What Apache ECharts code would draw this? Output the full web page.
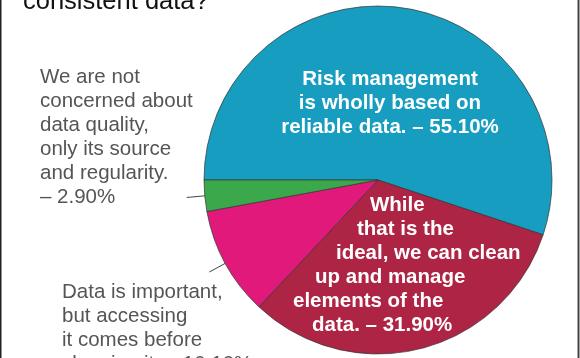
<!DOCTYPE html>
<html><head><meta charset="utf-8">
<script src="https://cdn.jsdelivr.net/npm/echarts@6/dist/echarts.min.js"></script>
<style>html,body{margin:0;padding:0;background:#fff}#c{width:580px;height:358px}</style>
</head><body><div id="c"></div>
<script>
const titleText = 'consistent data?';
const categories = [
  'Risk management is wholly based on reliable data.',
  'While that is the ideal, we can clean up and manage elements of the data.',
  'Data is important, but accessing it comes before cleaning it.',
  'We are not concerned about data quality, only its source and regularity.'
];
const values = [55.1, 31.9, 10.1, 2.9];
const colors = ['#179dc0', '#ae2444', '#e1197b', '#3ba94b'];
const labelLines = [
  ['Risk management', 'is wholly based on', 'reliable data. – %v'],
  ['While', 'that is the', 'ideal, we can clean', 'up and manage', 'elements of the', 'data. – %v'],
  ['Data is important,', 'but accessing', 'it comes before', 'cleaning it. – %v'],
  ['We are not', 'concerned about', 'data quality,', 'only its source', 'and regularity.', '– %v']
];
const redIndents = [77, 64, 43, 22, 0, 19];

const FONT = 'Liberation Sans, Arial, Helvetica, sans-serif';
function lines(i) {
  const v = values[i].toFixed(2) + '%';
  return labelLines[i].map(s => s.replace('%v', v));
}

const redRich = {};
redIndents.forEach((p, k) => {
  redRich['r' + k] = { fontFamily: FONT, fontSize: 20.5, fontWeight: 'bold', color: '#fff', lineHeight: 24, align: 'left', padding: [0, 0, 0, p] };
});

const mainData = values.map((v, i) => {
  const item = { name: categories[i], value: v, itemStyle: { color: colors[i] } };
  if (i === 0) {
    item.label = { show: true, position: 'inside', formatter: () => lines(0).join('\n'),
      fontFamily: FONT, fontSize: 20.5, fontWeight: 'bold', color: '#fff', lineHeight: 24, align: 'center' };
    item.labelLine = { show: false };
  } else if (i === 1) {
    item.label = { show: true, position: 'inside', align: 'left',
      formatter: () => lines(1).map((s, k) => '{r' + k + '|' + s + '}').join('\n'),
      rich: redRich };
    item.labelLine = { show: false };
  } else {
    item.label = { show: true, position: 'outside', formatter: ' ', fontSize: 10 };
    item.labelLine = { show: true, length: 18, length2: 0, lineStyle: { color: '#444', width: 1 } };
  }
  return item;
});

const textData = values.map((v, i) => ({
  name: categories[i], value: v,
  label: (i >= 2) ? { show: true, formatter: () => lines(i).join('\n') } : { show: false }
}));

const chart = echarts.init(document.getElementById('c'), null, { renderer: 'canvas' });
chart.setOption({
  animation: false,
  backgroundColor: '#fff',
  title: { text: titleText, left: 18, top: -18,
    textStyle: { fontFamily: FONT, fontSize: 25.5, fontWeight: 'normal', color: '#111', lineHeight: 30 } },
  graphic: [
    { type: 'line', shape: { x1: 0.5, y1: 0, x2: 0.5, y2: 358 }, style: { stroke: '#222', lineWidth: 2 }, silent: true },
    { type: 'line', shape: { x1: 578.5, y1: 0, x2: 578.5, y2: 358 }, style: { stroke: '#444', lineWidth: 2 }, silent: true }
  ],
  series: [
    {
      type: 'pie', center: [378, 180], radius: 174, startAngle: 180, clockwise: true,
      avoidLabelOverlap: false, silent: true,
      itemStyle: { borderColor: '#333', borderWidth: 0.7 },
      emphasis: { disabled: true },
      labelLayout: function (p) {
        if (p.dataIndex === 0) return { x: 390, y: 103, align: 'center', verticalAlign: 'middle' };
        if (p.dataIndex === 1) return { x: 293, y: 265, align: 'left', verticalAlign: 'middle' };
        return {};
      },
      data: mainData
    },
    {
      type: 'pie', center: [378, 180], radius: 174, startAngle: 180, clockwise: true,
      avoidLabelOverlap: false, silent: true, z: 3,
      itemStyle: { color: 'rgba(0,0,0,0)', borderWidth: 0 },
      emphasis: { disabled: true },
      label: { position: 'outside', fontFamily: FONT, fontSize: 20.5, color: '#555', lineHeight: 24, align: 'left' },
      labelLine: { show: false },
      labelLayout: function (p) {
        if (p.dataIndex === 3) return { x: 40, y: 65, align: 'left', verticalAlign: 'top' };
        if (p.dataIndex === 2) return { x: 62, y: 280, align: 'left', verticalAlign: 'top' };
        return {};
      },
      data: textData
    }
  ]
});
</script>
</body></html>
